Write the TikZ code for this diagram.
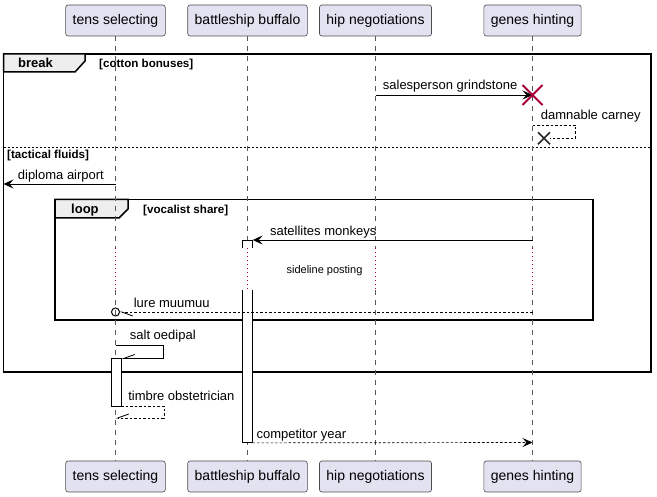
\documentclass[tikz,border=0pt]{standalone}
\usepackage{fontspec}
\setmainfont{Liberation Sans}
\usetikzlibrary{arrows.meta}

\definecolor{boxfill}{HTML}{E2E2F0}
\definecolor{darkred}{HTML}{A80036}
\definecolor{tabgray}{HTML}{EEEEEE}

\begin{document}
\begin{tikzpicture}
		[x=1pt, y=-1pt,
		main/.style = {draw=black!70, fill=boxfill, rounded corners=2.5pt, line width=0.6pt, minimum height=31pt, inner xsep=7pt, font=\fontsize{14}{16}\selectfont},
		act/.style = {fill=white, minimum width=10pt, inner sep=0pt, anchor=north},
		life/.style = {draw=black!65, line width=0.5pt, dash pattern=on 5pt off 5pt},
		delay/.style = {draw=darkred, line width=0.8pt, dash pattern=on 0.8pt off 3.2pt},
		msg/.style = {line width=0.8pt, -{Stealth[length=10pt, width=9pt, inset=4pt]}},
		reply/.style = {line width=0.7pt, dash pattern=on 2.5pt off 2pt},
		half/.style = {-{Straight Barb[harpoon, length=11pt, width=8pt, line width=0.8pt]}},
		halfup/.style = {-{Straight Barb[harpoon, swap, length=11pt, width=8pt, line width=0.8pt]}},
		frm/.style = {line width=1.5pt},
		tab/.style = {fill=tabgray, line width=1.5pt},
		lbl/.style = {font=\fontsize{13}{15}\selectfont, inner sep=0pt, anchor=base west},
		cond/.style = {font=\bfseries\fontsize{11.6}{13}\selectfont, inner sep=0pt, anchor=base west},
		kind/.style = {font=\bfseries\fontsize{13}{15}\selectfont, inner sep=0pt, anchor=base west}]
	\useasboundingbox (0,0) rectangle (657,497);
	% participants
	\node[main] (1) at (115.5,20.5) {tens selecting};
	\node[main] (2) at (247.5,20.5) {battleship buffalo};
	\node[main] (3) at (375.5,20.5) {hip negotiations};
	\node[main] (4) at (532.5,20.5) {genes hinting};
	\node[main] (5) at (115.5,476.5) {tens selecting};
	\node[main] (6) at (247.5,476.5) {battleship buffalo};
	\node[main] (7) at (375.5,476.5) {hip negotiations};
	\node[main] (8) at (532.5,476.5) {genes hinting};
	% break frame
	\draw[frm] (3.5,54) rectangle (651,372);
	\draw[tab] (3.5,54) -- (85,54) -- (85,61) -- (75,72) -- (3.5,72) -- cycle;
	\node[kind] (brk) at (18,68) {break};
	\node[cond] (brkc) at (99,68) {[cotton bonuses]};
	\draw[line width=0.6pt, dash pattern=on 2pt off 2pt] (3.5,147) -- (651,147);
	\node[cond] (els) at (7,158.5) {[tactical fluids]};
	% loop frame
	\draw[frm] (55,199.5) rectangle (593,320);
	\draw[tab] (55,199.5) -- (128,199.5) -- (128,209) -- (119,218) -- (55,218) -- cycle;
	\node[kind] (lp) at (71,213.5) {loop};
	\node[cond] (lpc) at (143,213.5) {[vocalist share]};
	% lifelines
	\foreach \i/\j in {1/5,2/6,3/7,4/8} {
		\draw[life] (\i) -- (\i |- 0,248);
		\draw[delay] (\i |- 0,248) -- (\i |- 0,290);
		\draw[life] (\i |- 0,290) -- (\j);
	}
	\node[font=\fontsize{11}{13}\selectfont, inner sep=0pt, anchor=base] (dl) at (324.5,273.3) {sideline posting};
	% activations
	\node[act, draw, line width=0.8pt, minimum height=47.2pt] (9) at (116,358.5) {};
	\node[act, minimum height=8pt] (10) at (247.5,240) {};
	\draw[line width=0.8pt] (10.south west) |- (10.north east) -- (10.south east);
	\node[act, minimum height=152.5pt] (11) at (247.5,290) {};
	\draw[line width=0.8pt] (11.north west) |- (11.south east) -- (11.north east);
	% messages
	\coordinate (a1) at (3 |- 0,95);
	\coordinate (a2) at (4 |- 0,95);
	\draw[msg] (a1) -- node[lbl, pos=0, xshift=7pt, yshift=5pt] {salesperson grindstone} (a2);
	\draw[darkred, line width=2pt] ([shift={(-10,-10)}]a2) -- ([shift={(10,10)}]a2)
		([shift={(-10,10)}]a2) -- ([shift={(10,-10)}]a2);
	\coordinate (b1) at (4 |- 0,125);
	\coordinate (b2) at (544,138.3);
	\draw[reply] (b1) -- node[lbl, pos=0, xshift=8pt, yshift=5pt] {damnable carney} ++(43,0) |- ([xshift=6pt]b2);
	\draw[line width=1.6pt, black!85] ([shift={(-6,-6)}]b2) -- ([shift={(6,6)}]b2)
		([shift={(-6,6)}]b2) -- ([shift={(6,-6)}]b2);
	\coordinate (c1) at (1 |- 0,184);
	\coordinate (c2) at (3.5,184);
	\draw[msg] (c1) -- node[lbl, pos=1, xshift=14pt, yshift=4pt] {diploma airport} (c2);
	\coordinate (d1) at (4 |- 0,240);
	\draw[msg] (d1) -- node[lbl, pos=1, xshift=17pt, yshift=4.5pt] {satellites monkeys} (10.north east);
	\coordinate (e1) at (4 |- 0,312);
	\coordinate (e2) at (1 |- 0,312);
	\draw[reply, half, shorten >=4pt] (e1) -- node[lbl, pos=1, xshift=18pt, yshift=4pt] {lure muumuu} (e2);
	\draw[line width=1pt] (e2) circle (4pt);
	\coordinate (f1) at (1 |- 0,345.5);
	\draw[line width=0.8pt, halfup] (f1) -- node[lbl, pos=0, xshift=14pt, yshift=5.5pt] {salt oedipal} ++(48,0) |- (9.north east);
	\coordinate (g1) at (1 |- 0,418);
	\draw[reply, halfup] (9.south east) -- node[lbl, pos=0, xshift=6.5pt, yshift=5.5pt] {timbre obstetrician} ++(42.5,0) |- (g1);
	\coordinate (h1) at (4 |- 0,442.5);
	\draw[reply, -{Stealth[length=10pt, width=9pt, inset=4pt]}] (11.south east) -- node[lbl, pos=0, xshift=3.5pt, yshift=4.5pt] {competitor year} (h1);
\end{tikzpicture}
\end{document}
